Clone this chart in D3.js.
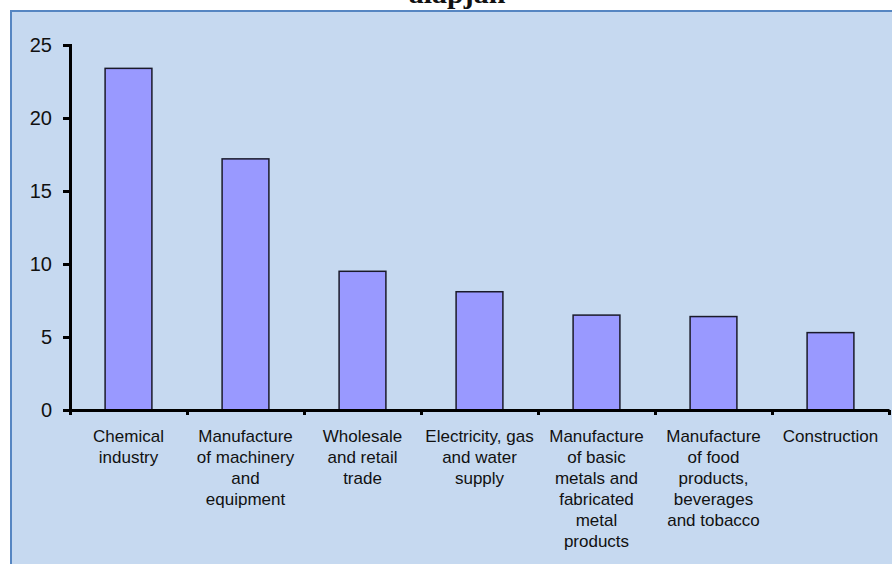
<!DOCTYPE html>
<html>
<head>
<meta charset="utf-8">
<script src="https://cdn.jsdelivr.net/npm/d3@7"></script>
<style>
  body { margin: 0; background: #fff; }
  svg text { font-family: "Liberation Sans", Arial, sans-serif; fill: #111; }
</style>
</head>
<body>
<div id="chart-area"></div>
<script>
// data
var titleText = "alapján";
var categories = ["Chemical industry", "Manufacture of machinery and equipment",
    "Wholesale and retail trade", "Electricity, gas and water supply",
    "Manufacture of basic metals and fabricated metal products",
    "Manufacture of food products, beverages and tobacco", "Construction"];
var labelLines = [
    ["Chemical", "industry"],
    ["Manufacture", "of machinery", "and", "equipment"],
    ["Wholesale", "and retail", "trade"],
    ["Electricity, gas", "and water", "supply"],
    ["Manufacture", "of basic", "metals and", "fabricated", "metal", "products"],
    ["Manufacture", "of food", "products,", "beverages", "and tobacco"],
    ["Construction"]
];
var values = [23.4, 17.2, 9.5, 8.1, 6.5, 6.4, 5.3];
var yTicks = [0, 5, 10, 15, 20, 25];

var width = 892, height = 564;
var plot = {left: 70, right: 889, top: 45, bottom: 410};

var svg = d3.select("#chart-area").append("svg")
    .attr("width", width)
    .attr("height", height);

// panel background
svg.append("rect")
    .attr("x", 11).attr("y", 11)
    .attr("width", width).attr("height", height)
    .attr("fill", "#c6d9f0")
    .attr("stroke", "#5686c2")
    .attr("stroke-width", 2);

// title (mostly cut off at the top)
svg.append("text")
    .attr("x", 457).attr("y", 3)
    .attr("text-anchor", "middle")
    .style("font-family", "'Liberation Serif', 'Times New Roman', serif")
    .style("font-weight", "bold")
    .style("font-size", "30px")
    .text(titleText);

var x = d3.scaleBand().domain(categories).range([plot.left, plot.right]);
var xEdges = d3.scaleLinear().domain([0, categories.length]).range([plot.left, plot.right]);
var y = d3.scaleLinear().domain([0, 25]).range([plot.bottom, plot.top]);

// bars
var barW = x.bandwidth() * 0.4;
svg.selectAll("rect.bar")
    .data(values)
    .enter().append("rect")
    .attr("class", "bar")
    .attr("x", function(d, i) { return x(categories[i]) + (x.bandwidth() - barW) / 2; })
    .attr("y", function(d) { return y(d); })
    .attr("width", barW)
    .attr("height", function(d) { return y(0) - y(d); })
    .attr("fill", "#9999ff")
    .attr("stroke", "#1a1a2a")
    .attr("stroke-width", 1.5);

// y axis
var yAxis = d3.axisLeft(y).tickValues(yTicks).tickSize(7).tickPadding(11);
var gy = svg.append("g")
    .attr("transform", "translate(" + plot.left + ",0)")
    .call(yAxis);
gy.select(".domain").attr("stroke", "#000").attr("stroke-width", 3);
gy.selectAll(".tick line").attr("stroke", "#000").attr("stroke-width", 3);
gy.selectAll(".tick text").style("font-size", "20px").attr("fill", "#111");

// x axis with ticks at category boundaries
var xAxis = d3.axisBottom(xEdges).tickValues(d3.range(categories.length + 1))
    .tickFormat("").tickSize(5).tickSizeOuter(0);
var gx = svg.append("g")
    .attr("transform", "translate(0," + plot.bottom + ")")
    .call(xAxis);
gx.select(".domain").attr("stroke", "#000").attr("stroke-width", 3);
gx.selectAll(".tick line").attr("stroke", "#000").attr("stroke-width", 3);

// category labels
var labels = svg.selectAll("text.cat")
    .data(labelLines)
    .enter().append("text")
    .attr("class", "cat")
    .attr("text-anchor", "middle")
    .style("font-size", "17px");
labels.selectAll("tspan")
    .data(function(d, i) { return d.map(function(s) { return {s: s, i: i}; }); })
    .enter().append("tspan")
    .attr("x", function(d) { return x(categories[d.i]) + x.bandwidth() / 2; })
    .attr("y", function(d, j) { return plot.bottom + 32 + j * 21; })
    .text(function(d) { return d.s; });
</script>
</body>
</html>
